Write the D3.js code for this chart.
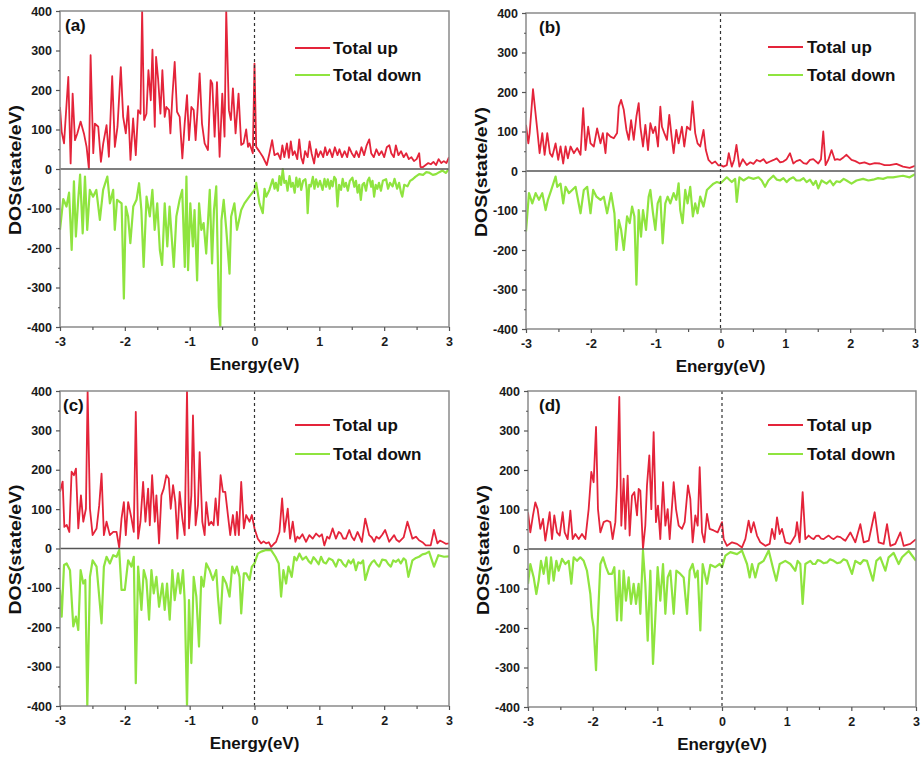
<!DOCTYPE html>
<html>
<head>
<meta charset="utf-8">
<script src="https://cdn.jsdelivr.net/npm/d3@7"></script>
<style>
  html, body { margin: 0; padding: 0; background: #fff; }
  svg { display: block; font-family: "Liberation Sans", Arial, sans-serif; }
  .tick text { font-weight: bold; font-size: 12.5px; fill: #1a1a1a; }
</style>
</head>
<body>
<svg id="fig" width="923" height="762"></svg>
<script>
// ---- data: [energy eV, DOS state/eV] ----
var energyTicks = [-3, -2, -1, 0, 1, 2, 3];
var energyMinor = [-2.5, -1.5, -0.5, 0.5, 1.5, 2.5];
var dosTicks = [-400, -300, -200, -100, 0, 100, 200, 300, 400];
var dosMinor = [-350, -250, -150, -50, 50, 150, 250, 350];
var panelLabels = ["(a)", "(b)", "(c)", "(d)"];
var seriesNames = ["Total up", "Total down"];

var upA = [[-3.00,157],[-2.974,94],[-2.938,65],[-2.872,233],[-2.836,14],[-2.805,191],[-2.769,73],[-2.733,90],[-2.682,120],[-2.631,90],[-2.590,56],[-2.554,0],[-2.528,288],[-2.487,40],[-2.462,115],[-2.410,107],[-2.369,18],[-2.333,65],[-2.282,111],[-2.246,31],[-2.195,235],[-2.154,56],[-2.113,107],[-2.062,258],[-2.026,132],[-1.985,90],[-1.949,159],[-1.913,23],[-1.872,128],[-1.831,35],[-1.795,149],[-1.759,140],[-1.733,400],[-1.703,124],[-1.667,140],[-1.636,250],[-1.600,174],[-1.574,302],[-1.538,107],[-1.518,284],[-1.487,229],[-1.451,140],[-1.421,250],[-1.385,132],[-1.359,157],[-1.318,149],[-1.297,90],[-1.267,183],[-1.231,271],[-1.195,145],[-1.154,132],[-1.113,27],[-1.077,115],[-1.041,187],[-1.010,73],[-0.974,157],[-0.938,149],[-0.908,73],[-0.872,166],[-0.846,242],[-0.810,115],[-0.769,65],[-0.718,48],[-0.677,225],[-0.651,216],[-0.615,82],[-0.579,220],[-0.538,31],[-0.497,191],[-0.462,82],[-0.436,400],[-0.395,149],[-0.364,124],[-0.333,204],[-0.292,90],[-0.246,191],[-0.205,61],[-0.169,65],[-0.128,100],[-0.100,56],[-0.077,65],[-0.026,40],[0.000,267],[0.026,56],[0.077,44],[0.128,31],[0.190,10],[0.231,40],[0.272,73],[0.308,35],[0.359,40],[0.40,25],[0.43,60],[0.46,30],[0.50,65],[0.53,28],[0.56,70],[0.59,35],[0.62,45],[0.66,25],[0.69,75],[0.72,30],[0.75,14],[0.78,45],[0.82,30],[0.85,70],[0.88,40],[0.92,14],[0.95,50],[0.98,30],[1.02,45],[1.06,30],[1.09,55],[1.12,35],[1.16,50],[1.20,30],[1.24,55],[1.28,35],[1.31,50],[1.35,30],[1.39,45],[1.43,30],[1.46,55],[1.50,40],[1.54,30],[1.57,45],[1.61,30],[1.65,55],[1.69,35],[1.73,60],[1.77,75],[1.80,40],[1.84,30],[1.88,50],[1.92,35],[1.96,45],[2.00,30],[2.04,55],[2.08,60],[2.11,40],[2.15,30],[2.18,60],[2.22,35],[2.26,45],[2.30,30],[2.34,40],[2.38,25],[2.42,30],[2.46,20],[2.50,25],[2.54,40],[2.56,5],[2.60,5],[2.64,10],[2.68,15],[2.72,12],[2.76,18],[2.80,10],[2.84,25],[2.88,15],[2.92,20],[2.96,15],[3.00,30]];

var downA = [[-3.00,-154],[-2.95,-76],[-2.90,-95],[-2.86,-60],[-2.82,-205],[-2.785,-31],[-2.755,-171],[-2.72,-80],[-2.69,-14],[-2.65,-163],[-2.615,-19],[-2.58,-154],[-2.54,-53],[-2.49,-70],[-2.44,-53],[-2.385,-129],[-2.335,-53],[-2.27,-19],[-2.23,-87],[-2.18,-53],[-2.155,-154],[-2.12,-78],[-2.05,-87],[-2.015,-328],[-1.985,-95],[-1.95,-120],[-1.915,-188],[-1.87,-95],[-1.82,-78],[-1.78,-36],[-1.745,-104],[-1.71,-248],[-1.665,-70],[-1.615,-120],[-1.575,-53],[-1.54,-154],[-1.50,-87],[-1.46,-205],[-1.425,-243],[-1.385,-87],[-1.345,-196],[-1.31,-95],[-1.245,-248],[-1.205,-120],[-1.155,-78],[-1.115,-53],[-1.075,-248],[-1.05,-19],[-1.025,-256],[-0.99,-87],[-0.95,-196],[-0.925,-104],[-0.885,-282],[-0.855,-87],[-0.82,-154],[-0.785,-137],[-0.745,-214],[-0.69,-53],[-0.655,-239],[-0.625,-104],[-0.59,-44],[-0.55,-349],[-0.528,-400],[-0.51,-130],[-0.475,-78],[-0.435,-154],[-0.385,-265],[-0.36,-120],[-0.31,-87],[-0.27,-154],[-0.205,-104],[-0.155,-87],[-0.08,-70],[0,-53],[0.026,-35],[0.077,-87],[0.128,-112],[0.155,-50],[0.18,-70],[0.23,-53],[0.28,-26],[0.31,-50],[0.33,-35],[0.36,-55],[0.385,-18],[0.41,-40],[0.436,0],[0.46,-35],[0.487,-30],[0.51,-55],[0.54,-18],[0.565,-45],[0.59,-35],[0.62,-60],[0.645,-22],[0.67,-45],[0.695,-25],[0.72,-53],[0.75,-30],[0.785,-26],[0.805,-50],[0.82,-112],[0.845,-40],[0.87,-44],[0.9,-20],[0.925,-50],[0.95,-26],[0.98,-45],[1.01,-30],[1.05,-53],[1.08,-25],[1.105,-45],[1.13,-26],[1.16,-50],[1.18,-30],[1.205,-44],[1.23,-20],[1.255,-26],[1.28,-95],[1.305,-40],[1.335,-53],[1.36,-25],[1.385,-45],[1.41,-35],[1.44,-55],[1.47,-30],[1.51,-22],[1.54,-45],[1.565,-30],[1.59,-60],[1.615,-40],[1.64,-78],[1.665,-40],[1.69,-35],[1.72,-55],[1.745,-30],[1.77,-22],[1.8,-45],[1.82,-30],[1.845,-70],[1.87,-40],[1.895,-50],[1.92,-35],[1.95,-55],[1.98,-30],[2.03,-26],[2.06,-50],[2.09,-35],[2.13,-44],[2.16,-25],[2.20,-50],[2.23,-35],[2.26,-60],[2.28,-70],[2.31,-40],[2.36,-44],[2.40,-30],[2.44,-26],[2.48,-20],[2.54,-13],[2.60,-15],[2.65,-8],[2.69,-9],[2.75,-15],[2.80,-13],[2.85,-8],[2.90,-4],[2.95,-10],[3.00,0]];

var upB = [[-3.00,117],[-2.964,70],[-2.944,96],[-2.892,207],[-2.826,104],[-2.790,45],[-2.749,96],[-2.713,41],[-2.672,96],[-2.631,45],[-2.595,36],[-2.544,70],[-2.503,28],[-2.467,62],[-2.426,19],[-2.390,62],[-2.354,32],[-2.313,62],[-2.262,45],[-2.210,58],[-2.159,41],[-2.118,159],[-2.082,53],[-2.041,112],[-2.005,70],[-1.954,62],[-1.903,108],[-1.851,70],[-1.815,96],[-1.774,45],[-1.749,96],[-1.697,87],[-1.646,83],[-1.595,96],[-1.569,163],[-1.533,180],[-1.492,155],[-1.451,104],[-1.415,79],[-1.379,129],[-1.338,79],[-1.297,138],[-1.262,172],[-1.236,112],[-1.195,62],[-1.159,117],[-1.118,53],[-1.082,121],[-1.041,96],[-1.005,112],[-0.964,62],[-0.928,163],[-0.903,112],[-0.867,96],[-0.826,79],[-0.790,142],[-0.749,79],[-0.723,45],[-0.682,104],[-0.646,70],[-0.595,112],[-0.559,62],[-0.518,112],[-0.467,104],[-0.431,176],[-0.390,96],[-0.354,70],[-0.313,62],[-0.262,104],[-0.226,53],[-0.185,28],[-0.133,19],[-0.082,24],[-0.031,14],[0,15],[0.046,11],[0.097,15],[0.128,45],[0.174,11],[0.210,28],[0.246,66],[0.292,11],[0.344,30],[0.405,15],[0.46,22],[0.508,18],[0.56,28],[0.610,24],[0.662,30],[0.71,20],[0.764,24],[0.82,28],[0.867,32],[0.92,22],[0.969,24],[1.02,30],[1.072,45],[1.123,19],[1.17,25],[1.226,28],[1.28,20],[1.328,18],[1.38,28],[1.431,30],[1.508,19],[1.55,30],[1.585,100],[1.621,15],[1.662,28],[1.713,53],[1.764,28],[1.80,30],[1.841,28],[1.90,35],[1.944,41],[2.021,28],[2.08,25],[2.149,19],[2.22,22],[2.303,17],[2.38,20],[2.456,19],[2.53,15],[2.610,15],[2.713,18],[2.815,11],[2.918,8],[3.00,13]];

var downB = [[-3.00,-153],[-2.954,-56],[-2.903,-82],[-2.851,-56],[-2.800,-73],[-2.749,-56],[-2.697,-99],[-2.662,-73],[-2.610,-48],[-2.544,-14],[-2.518,-40],[-2.467,-32],[-2.426,-82],[-2.390,-40],[-2.338,-56],[-2.287,-48],[-2.236,-40],[-2.159,-107],[-2.108,-48],[-2.056,-40],[-2.005,-107],[-1.964,-48],[-1.913,-65],[-1.851,-73],[-1.800,-65],[-1.749,-107],[-1.687,-56],[-1.636,-107],[-1.605,-200],[-1.569,-124],[-1.533,-149],[-1.492,-200],[-1.441,-115],[-1.400,-132],[-1.364,-90],[-1.328,-115],[-1.297,-288],[-1.262,-99],[-1.226,-166],[-1.195,-99],[-1.149,-149],[-1.108,-65],[-1.082,-48],[-1.041,-107],[-1.005,-149],[-0.969,-82],[-0.928,-65],[-0.892,-183],[-0.851,-82],[-0.815,-65],[-0.774,-82],[-0.723,-56],[-0.682,-73],[-0.646,-31],[-0.621,-99],[-0.585,-132],[-0.544,-48],[-0.508,-82],[-0.467,-40],[-0.426,-115],[-0.390,-82],[-0.354,-107],[-0.313,-65],[-0.262,-90],[-0.210,-48],[-0.159,-40],[-0.108,-32],[-0.056,-28],[0,-31],[0.046,-24],[0.097,-16],[0.174,-28],[0.226,-20],[0.251,-78],[0.292,-16],[0.354,-24],[0.431,-16],[0.508,-20],[0.585,-16],[0.636,-24],[0.687,-40],[0.738,-24],[0.815,-12],[0.87,-22],[0.918,-24],[0.97,-18],[1.021,-28],[1.07,-20],[1.123,-16],[1.17,-24],[1.226,-24],[1.28,-18],[1.328,-28],[1.38,-22],[1.431,-35],[1.47,-25],[1.508,-44],[1.559,-24],[1.636,-32],[1.69,-24],[1.738,-36],[1.79,-26],[1.841,-28],[1.90,-20],[1.944,-24],[2.021,-32],[2.097,-24],[2.2,-20],[2.28,-24],[2.354,-22],[2.43,-18],[2.508,-20],[2.58,-16],[2.662,-16],[2.74,-14],[2.815,-12],[2.918,-16],[3.00,-8]];

var upC = [[-3.00,144],[-2.959,170],[-2.933,55],[-2.897,60],[-2.856,42],[-2.821,195],[-2.785,186],[-2.754,203],[-2.718,51],[-2.677,135],[-2.641,68],[-2.600,101],[-2.574,400],[-2.538,101],[-2.497,34],[-2.436,51],[-2.395,110],[-2.359,190],[-2.323,34],[-2.282,68],[-2.231,34],[-2.179,42],[-2.128,42],[-2.087,2],[-2.051,76],[-2.015,118],[-1.985,34],[-1.949,118],[-1.897,76],[-1.862,42],[-1.831,347],[-1.795,25],[-1.759,68],[-1.718,169],[-1.682,68],[-1.641,152],[-1.615,59],[-1.579,186],[-1.538,68],[-1.513,135],[-1.472,13],[-1.436,135],[-1.400,152],[-1.359,186],[-1.323,178],[-1.292,101],[-1.256,161],[-1.221,118],[-1.190,25],[-1.154,144],[-1.113,76],[-1.077,34],[-1.041,400],[-1.010,51],[-0.974,135],[-0.949,338],[-0.908,59],[-0.872,110],[-0.846,245],[-0.805,68],[-0.769,34],[-0.744,118],[-0.703,59],[-0.667,68],[-0.631,59],[-0.600,127],[-0.564,59],[-0.523,186],[-0.487,144],[-0.451,144],[-0.410,85],[-0.374,34],[-0.333,85],[-0.297,34],[-0.272,93],[-0.241,34],[-0.205,169],[-0.164,51],[-0.128,85],[-0.077,68],[-0.041,85],[0,51],[0.051,25],[0.103,13],[0.14,18],[0.179,13],[0.22,16],[0.256,4],[0.30,12],[0.333,17],[0.385,42],[0.426,127],[0.462,42],[0.513,101],[0.549,25],[0.590,68],[0.631,17],[0.66,30],[0.692,25],[0.74,36],[0.795,17],[0.846,34],[0.897,25],[0.95,38],[1.0,30],[1.04,36],[1.077,8],[1.12,30],[1.154,25],[1.205,51],[1.256,25],[1.30,42],[1.333,38],[1.37,25],[1.410,25],[1.462,47],[1.50,30],[1.538,21],[1.590,42],[1.656,17],[1.708,76],[1.769,34],[1.81,28],[1.846,17],[1.88,30],[1.923,25],[1.97,35],[2.015,47],[2.077,17],[2.154,34],[2.19,22],[2.231,17],[2.30,28],[2.359,68],[2.436,25],[2.49,30],[2.538,21],[2.59,16],[2.641,8],[2.718,8],[2.769,47],[2.821,13],[2.86,20],[2.897,17],[2.95,12],[3.00,13]];

var downC = [[-3.00,-105],[-2.974,-173],[-2.938,-42],[-2.897,-38],[-2.846,-55],[-2.795,-198],[-2.754,-173],[-2.718,-207],[-2.682,-55],[-2.641,-89],[-2.610,-80],[-2.579,-400],[-2.538,-72],[-2.497,-30],[-2.436,-46],[-2.395,-122],[-2.359,-190],[-2.323,-46],[-2.282,-21],[-2.231,-38],[-2.179,-17],[-2.128,-21],[-2.087,-4],[-2.051,-105],[-2.0,-105],[-1.949,-30],[-1.897,-46],[-1.862,-21],[-1.831,-342],[-1.795,-46],[-1.744,-156],[-1.708,-55],[-1.667,-80],[-1.626,-181],[-1.590,-55],[-1.554,-114],[-1.513,-72],[-1.472,-148],[-1.421,-89],[-1.385,-156],[-1.349,-89],[-1.308,-181],[-1.267,-55],[-1.231,-131],[-1.179,-63],[-1.144,-114],[-1.103,-55],[-1.077,-131],[-1.041,-400],[-1.010,-131],[-0.974,-291],[-0.938,-72],[-0.897,-122],[-0.856,-249],[-0.821,-72],[-0.785,-97],[-0.744,-38],[-0.692,-55],[-0.641,-80],[-0.590,-55],[-0.564,-122],[-0.528,-190],[-0.487,-72],[-0.436,-89],[-0.385,-122],[-0.344,-46],[-0.308,-63],[-0.272,-46],[-0.231,-72],[-0.205,-165],[-0.164,-63],[-0.128,-63],[-0.077,-80],[-0.041,-46],[0,-38],[0.051,-13],[0.103,-8],[0.179,-4],[0.256,-4],[0.323,-21],[0.374,-38],[0.410,-122],[0.446,-55],[0.487,-89],[0.523,-46],[0.574,-72],[0.615,-21],[0.65,-30],[0.692,-13],[0.74,-28],[0.795,-21],[0.835,-32],[0.872,-38],[0.91,-22],[0.949,-30],[0.99,-40],[1.026,-21],[1.065,-35],[1.103,-38],[1.15,-25],[1.205,-30],[1.256,-46],[1.295,-28],[1.333,-30],[1.37,-40],[1.410,-46],[1.45,-30],[1.487,-38],[1.525,-28],[1.564,-55],[1.60,-35],[1.641,-38],[1.675,-30],[1.708,-80],[1.769,-46],[1.81,-35],[1.846,-30],[1.885,-40],[1.923,-46],[1.97,-28],[2.026,-30],[2.065,-40],[2.103,-46],[2.14,-30],[2.179,-34],[2.22,-28],[2.256,-38],[2.30,-25],[2.333,-30],[2.374,-72],[2.436,-30],[2.49,-24],[2.538,-21],[2.59,-15],[2.641,-13],[2.692,-8],[2.769,-46],[2.836,-17],[2.923,-21],[3.00,-20]];

var upD = [[-3.00,93],[-2.964,42],[-2.923,85],[-2.887,118],[-2.851,101],[-2.809,51],[-2.768,76],[-2.732,21],[-2.696,59],[-2.665,93],[-2.629,25],[-2.593,85],[-2.552,42],[-2.510,34],[-2.464,93],[-2.433,42],[-2.387,25],[-2.345,97],[-2.309,25],[-2.268,38],[-2.216,25],[-2.165,38],[-2.113,25],[-2.062,101],[-2.021,195],[-1.985,169],[-1.948,309],[-1.918,101],[-1.881,42],[-1.830,68],[-1.778,72],[-1.727,68],[-1.691,25],[-1.649,68],[-1.624,161],[-1.588,385],[-1.557,59],[-1.521,178],[-1.495,51],[-1.459,186],[-1.428,34],[-1.392,135],[-1.356,144],[-1.314,85],[-1.289,152],[-1.263,148],[-1.222,0],[-1.186,59],[-1.160,161],[-1.124,237],[-1.093,101],[-1.057,296],[-1.021,68],[-0.990,110],[-0.954,25],[-0.912,169],[-0.876,59],[-0.840,101],[-0.809,25],[-0.747,169],[-0.711,101],[-0.670,59],[-0.619,51],[-0.577,68],[-0.526,161],[-0.490,127],[-0.454,17],[-0.412,85],[-0.376,59],[-0.345,207],[-0.309,42],[-0.273,17],[-0.232,89],[-0.191,51],[-0.129,47],[-0.067,42],[0,68],[0.026,25],[0.077,8],[0.155,17],[0.232,13],[0.309,4],[0.361,25],[0.412,72],[0.448,42],[0.490,68],[0.541,34],[0.593,17],[0.670,8],[0.737,13],[0.773,51],[0.814,25],[0.851,80],[0.892,38],[0.928,51],[0.979,17],[1.057,13],[1.134,34],[1.160,68],[1.201,17],[1.247,144],[1.289,25],[1.340,34],[1.38,28],[1.418,25],[1.455,33],[1.495,34],[1.535,26],[1.572,25],[1.61,30],[1.649,34],[1.69,28],[1.727,25],[1.78,32],[1.830,30],[1.87,25],[1.907,21],[1.985,42],[2.062,17],[2.139,63],[2.191,17],[2.268,21],[2.361,93],[2.423,17],[2.50,13],[2.552,63],[2.603,8],[2.680,13],[2.758,42],[2.809,8],[2.912,13],[3.00,25]];

var downD = [[-3.00,-88],[-2.964,-38],[-2.912,-72],[-2.871,-114],[-2.835,-80],[-2.799,-30],[-2.758,-63],[-2.716,-21],[-2.680,-88],[-2.644,-21],[-2.603,-80],[-2.562,-30],[-2.526,-55],[-2.474,-25],[-2.423,-38],[-2.371,-30],[-2.330,-88],[-2.294,-21],[-2.242,-30],[-2.191,-21],[-2.139,-30],[-2.088,-55],[-2.036,-114],[-2.010,-173],[-1.985,-198],[-1.948,-307],[-1.918,-173],[-1.881,-38],[-1.840,-21],[-1.794,-46],[-1.753,-63],[-1.701,-63],[-1.665,-46],[-1.624,-181],[-1.588,-55],[-1.557,-181],[-1.521,-55],[-1.485,-131],[-1.443,-72],[-1.407,-139],[-1.366,-88],[-1.330,-139],[-1.289,-88],[-1.263,-164],[-1.222,-4],[-1.186,-88],[-1.149,-232],[-1.108,-55],[-1.067,-291],[-1.031,-173],[-0.995,-46],[-0.954,-131],[-0.912,-38],[-0.876,-164],[-0.840,-72],[-0.799,-55],[-0.747,-164],[-0.706,-55],[-0.644,-63],[-0.593,-72],[-0.541,-164],[-0.500,-55],[-0.454,-38],[-0.412,-72],[-0.376,-55],[-0.335,-206],[-0.299,-38],[-0.232,-88],[-0.180,-40],[-0.103,-46],[-0.036,-38],[0,-46],[0.052,-17],[0.129,-8],[0.232,-13],[0.309,-4],[0.387,-38],[0.428,-72],[0.464,-38],[0.515,-72],[0.567,-38],[0.644,-30],[0.722,-4],[0.799,-55],[0.840,-80],[0.892,-38],[0.979,-30],[1.057,-38],[1.134,-55],[1.170,-30],[1.211,-38],[1.247,-139],[1.289,-38],[1.366,-30],[1.405,-38],[1.443,-38],[1.48,-28],[1.521,-30],[1.57,-36],[1.624,-34],[1.67,-26],[1.727,-30],[1.78,-36],[1.830,-34],[1.88,-26],[1.933,-30],[2.010,-63],[2.062,-30],[2.139,-38],[2.19,-28],[2.242,-30],[2.335,-80],[2.387,-30],[2.448,-21],[2.526,-55],[2.577,-21],[2.655,-10],[2.732,-38],[2.784,-21],[2.887,-5],[3.00,-30]];

var upSeries = [upA, upB, upC, upD];
var downSeries = [downA, downB, downC, downD];

// ---- layout (pixels) ----
var boxes = [
  { l: 60, r: 449, t: 11, b: 327, legX: 235, legTx: 273, legUp: 37, legDn: 64, labX: 5, labY: 20 },
  { l: 526, r: 915, t: 13, b: 329, legX: 242, legTx: 281, legUp: 34, legDn: 62, labX: 13, labY: 20 },
  { l: 60, r: 449, t: 391, b: 706, legX: 235, legTx: 273, legUp: 34, legDn: 63, labX: 3, labY: 20 },
  { l: 528, r: 916, t: 391, b: 707, legX: 240, legTx: 279, legUp: 34, legDn: 63, labX: 11, labY: 20 }
];
var RED = "#e4243a", GREEN = "#8fe43f", FRAME = "#8a8a8a";

var svg = d3.select("#fig");
svg.append("rect").attr("width", 923).attr("height", 762).attr("fill", "#fff");

boxes.forEach(function (bx, i) {
  var x = d3.scaleLinear().domain([-3, 3]).range([bx.l, bx.r]);
  var y = d3.scaleLinear().domain([-400, 400]).range([bx.b, bx.t]);
  var g = svg.append("g");

  g.append("clipPath").attr("id", "clip" + i).append("rect")
    .attr("x", bx.l).attr("y", bx.t).attr("width", bx.r - bx.l).attr("height", bx.b - bx.t);

  var line = d3.line().x(function (d) { return x(d[0]); }).y(function (d) { return y(d[1]); });
  var plot = g.append("g").attr("clip-path", "url(#clip" + i + ")");
  plot.append("path").datum(upSeries[i]).attr("d", line).attr("fill", "none")
    .attr("stroke", RED).attr("stroke-width", 1.8).attr("stroke-linejoin", "round");
  plot.append("path").datum(downSeries[i]).attr("d", line).attr("fill", "none")
    .attr("stroke", GREEN).attr("stroke-width", 2.2).attr("stroke-linejoin", "round");

  // zero line + Fermi level
  g.append("line").attr("x1", bx.l).attr("x2", bx.r).attr("y1", y(0)).attr("y2", y(0))
    .attr("stroke", "#555").attr("stroke-width", 1.3);
  g.append("line").attr("x1", x(0)).attr("x2", x(0)).attr("y1", bx.t).attr("y2", bx.b)
    .attr("stroke", "#333").attr("stroke-width", 1.2).attr("stroke-dasharray", "3,3");

  // frame
  g.append("rect").attr("x", bx.l).attr("y", bx.t).attr("width", bx.r - bx.l).attr("height", bx.b - bx.t)
    .attr("fill", "none").attr("stroke", FRAME).attr("stroke-width", 1.5);

  // axes
  var fmt = function (d) { return String(d); };
  g.append("g").attr("transform", "translate(" + bx.l + ",0)")
    .call(d3.axisLeft(y).tickValues(dosTicks).tickSize(4).tickPadding(4).tickFormat(fmt));
  g.append("g").attr("transform", "translate(" + bx.l + ",0)")
    .call(d3.axisLeft(y).tickValues(dosMinor).tickSize(2).tickFormat(""));
  g.append("g").attr("transform", "translate(0," + bx.b + ")")
    .call(d3.axisBottom(x).tickValues(energyTicks).tickSize(4).tickPadding(6).tickFormat(fmt));
  g.append("g").attr("transform", "translate(0," + bx.b + ")")
    .call(d3.axisBottom(x).tickValues(energyMinor).tickSize(3).tickFormat(""));
  g.selectAll(".domain").remove();
  g.selectAll(".tick line").attr("stroke", "#555").attr("stroke-width", 1.2);
  g.selectAll(".tick text").attr("font-family", "Liberation Sans, Arial, sans-serif");

  // axis titles
  g.append("text").attr("x", (bx.l + bx.r) / 2).attr("y", bx.b + 43)
    .attr("text-anchor", "middle").attr("font-size", 17).attr("font-weight", "bold").attr("fill", "#111")
    .text("Energy(eV)");
  g.append("text").attr("transform", "translate(" + (bx.l - 39) + "," + ((bx.t + bx.b) / 2 + 1) + ") rotate(-90)")
    .attr("text-anchor", "middle").attr("font-size", 17).attr("font-weight", "bold").attr("fill", "#111")
    .attr("textLength", 130).attr("lengthAdjust", "spacingAndGlyphs")
    .text("DOS(state/eV)");

  // panel label
  g.append("text").attr("x", bx.l + bx.labX).attr("y", bx.t + bx.labY)
    .attr("font-size", 17).attr("font-weight", "bold").attr("fill", "#111").text(panelLabels[i]);

  // legend
  [RED, GREEN].forEach(function (c, k) {
    var ly = bx.t + (k === 0 ? bx.legUp : bx.legDn);
    g.append("line").attr("x1", bx.l + bx.legX).attr("x2", bx.l + bx.legX + 35).attr("y1", ly).attr("y2", ly)
      .attr("stroke", c).attr("stroke-width", k === 0 ? 1.8 : 2.2);
    g.append("text").attr("x", bx.l + bx.legTx).attr("y", ly + 6)
      .attr("font-size", 17).attr("font-weight", "bold").attr("fill", "#111").text(seriesNames[k]);
  });
});
</script>
</body>
</html>
